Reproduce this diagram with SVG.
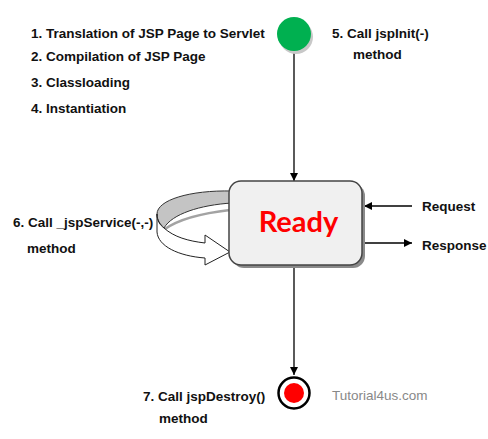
<svg xmlns="http://www.w3.org/2000/svg" width="488" height="439" viewBox="0 0 488 439">
<defs>
<style>
.lbl{font-family:"Liberation Sans",Arial,sans-serif;font-weight:bold;font-size:13.5px;fill:#111}
.conn{stroke:#000;stroke-width:1.3;fill:none}
</style>
<marker id="ah" viewBox="0 0 10 10" refX="10" refY="5" markerWidth="9" markerHeight="8" markerUnits="userSpaceOnUse" orient="auto">
<path d="M0,0 L10,5 L0,10 Z" fill="#000"/>
</marker>
</defs>
<rect width="488" height="439" fill="#fff"/>

<g id="connectors">
<line class="conn" x1="294" y1="51" x2="294" y2="181" marker-end="url(#ah)"/>
<line class="conn" x1="294" y1="266" x2="294" y2="375" marker-end="url(#ah)"/>
<line class="conn" x1="412" y1="206" x2="364" y2="206" marker-end="url(#ah)"/>
<line class="conn" x1="363" y1="243" x2="412" y2="243" marker-end="url(#ah)"/>
</g>

<g id="start">
<circle cx="296" cy="37" r="17" fill="#c8c8c8"/>
<circle cx="294" cy="34" r="17" fill="#00b050"/>
</g>

<g id="loop">
<path d="M232,191 C190,190 157,200 157,214 C157,220 160,224 164,228 C172,214 200,205 232,203 Z" fill="#c4c4c4" stroke="#333" stroke-width="1"/>
<path d="M165,229 C175,222 195,214 230,210" fill="none" stroke="#666" stroke-width="2.5" opacity="0.6"/>
<path d="M157,214 C157,221 160,225 164,228 C174,237 188,241 205,243 L205,235 L230,252 L205,265 L205,258 C178,256 158,246 157,232 Z" fill="#fff" stroke="#222" stroke-width="1" stroke-linejoin="miter"/>
</g>

<g id="ready">
<rect x="232" y="184" width="133" height="84" rx="12" fill="#8a8a8a"/>
<rect x="229" y="181" width="133" height="84" rx="12" fill="#f0f0f0" stroke="#444" stroke-width="1.5"/>
<text x="298.5" y="232" text-anchor="middle" font-family="Lato,'Open Sans',sans-serif" font-weight="bold" font-size="29" fill="#ff0000">Ready</text>
</g>

<g id="end">
<circle cx="294" cy="393" r="15.5" fill="#fff" stroke="#000" stroke-width="2.5"/>
<circle cx="294" cy="393" r="10" fill="#ff0000"/>
</g>

<g id="labels">
<text class="lbl" x="31" y="38">1. Translation of JSP Page to Servlet</text>
<text class="lbl" x="31" y="61">2. Compilation of JSP Page</text>
<text class="lbl" x="31" y="87">3. Classloading</text>
<text class="lbl" x="31" y="113">4. Instantiation</text>
<text class="lbl" x="332" y="38">5.  Call jspInit(-)</text>
<text class="lbl" x="353" y="59">method</text>
<text class="lbl" x="13" y="227">6. Call _jspService(-,-)</text>
<text class="lbl" x="27" y="253">method</text>
<text class="lbl" x="422" y="211">Request</text>
<text class="lbl" x="422" y="250">Response</text>
<text class="lbl" x="143" y="401">7. Call jspDestroy()</text>
<text class="lbl" x="159" y="423">method</text>
<text x="332" y="400" font-family="'Liberation Sans',Arial,sans-serif" font-size="13.5" fill="#888">Tutorial4us.com</text>
</g>
</svg>
